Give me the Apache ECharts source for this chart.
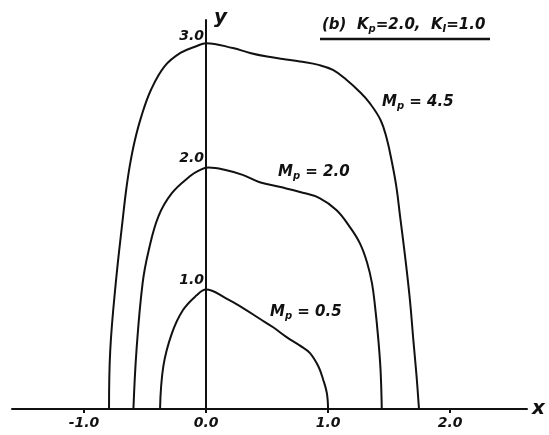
<!DOCTYPE html>
<html>
<head>
<meta charset="utf-8">
<script src="https://cdn.jsdelivr.net/npm/echarts@6/dist/echarts.min.js"></script>
<style>
  html, body { margin: 0; padding: 0; background: #fff; }
  #chart { width: 549px; height: 435px; }
</style>
</head>
<body>
<div id="chart"></div>
<script>
// axis ticks
const xTicks = [-1, 0, 1, 2]
const yTicks = [1, 2, 3]

// curves, [x, y]
const curveM45 = [
  [-0.795, 0], [-0.785, 0.48], [-0.74, 1.03], [-0.68, 1.58], [-0.654, 1.80],
  [-0.624, 2.00], [-0.584, 2.20], [-0.53, 2.40], [-0.45, 2.62], [-0.34, 2.81],
  [-0.21, 2.92], [-0.08, 2.975], [0, 3.0], [0.22, 2.96], [0.36, 2.92],
  [0.50, 2.89], [0.63, 2.87], [0.77, 2.85], [0.93, 2.82], [1.04, 2.78],
  [1.15, 2.70], [1.26, 2.60], [1.34, 2.51], [1.43, 2.37], [1.48, 2.22],
  [1.52, 2.04], [1.56, 1.82], [1.59, 1.58], [1.63, 1.26], [1.67, 0.90],
  [1.70, 0.55], [1.725, 0.27], [1.745, 0]
]
const curveM20 = [
  [-0.595, 0], [-0.57, 0.48], [-0.52, 1.03], [-0.47, 1.30], [-0.39, 1.58],
  [-0.28, 1.77], [-0.13, 1.91], [-0.06, 1.955], [0.02, 1.98], [0.16, 1.96],
  [0.30, 1.92], [0.44, 1.86], [0.61, 1.82], [0.77, 1.78], [0.93, 1.73],
  [1.07, 1.63], [1.18, 1.49], [1.26, 1.36], [1.32, 1.20], [1.36, 1.03],
  [1.385, 0.84], [1.41, 0.59], [1.43, 0.32], [1.44, 0]
]
const curveM05 = [
  [-0.377, 0], [-0.35, 0.35], [-0.28, 0.62], [-0.19, 0.81], [-0.08, 0.93],
  [0, 0.98], [0.16, 0.91], [0.30, 0.83], [0.44, 0.74], [0.55, 0.67],
  [0.66, 0.59], [0.77, 0.52], [0.85, 0.46], [0.92, 0.35], [0.96, 0.24],
  [0.99, 0.13], [1.0, 0]
]

const INK = '#111'
const FONT = 'DejaVu Sans'

function curveSeries(name, data) {
  return {
    name: name,
    type: 'line',
    data: data,
    smooth: 0.4,
    showSymbol: false,
    silent: true,
    lineStyle: { color: INK, width: 2 }
  }
}

function textLabel(left, top, text) {
  return {
    type: 'text',
    left: left,
    top: top,
    style: {
      text: text,
      fill: INK,
      font: 'italic bold 15px ' + FONT,
      rich: {
        sub: { fontSize: 10, fontStyle: 'italic', fontWeight: 'bold', fontFamily: FONT, fill: INK, padding: [8, 0, 0, 0] }
      }
    }
  }
}

const chart = echarts.init(document.getElementById('chart'), null, { renderer: 'canvas' })

chart.setOption({
  animation: false,
  backgroundColor: '#fff',
  grid: { left: 12, right: 22, top: 20, bottom: 26, containLabel: false, outerBoundsMode: 'none' },
  xAxis: {
    type: 'value',
    min: -1.59,
    max: 2.63,
    name: 'x',
    nameLocation: 'end',
    nameGap: 5,
    nameTextStyle: { color: INK, fontSize: 20, fontWeight: 'bold', fontStyle: 'italic', fontFamily: FONT },
    axisLine: { lineStyle: { color: INK, width: 2 } },
    axisTick: { show: true, length: 4, customValues: xTicks, lineStyle: { color: INK, width: 2 } },
    axisLabel: {
      customValues: xTicks,
      margin: 7,
      color: INK,
      fontSize: 14,
      fontWeight: 'bold',
      fontStyle: 'italic',
      fontFamily: FONT,
      formatter: (v) => v.toFixed(1)
    },
    splitLine: { show: false }
  },
  yAxis: {
    type: 'value',
    min: 0,
    max: 3.19,
    // move the axis onto x = 0 so its labels come along
    offset: -194,
    name: 'y',
    nameLocation: 'end',
    nameGap: -8,
    nameTextStyle: { color: INK, fontSize: 20, fontWeight: 'bold', fontStyle: 'italic', fontFamily: FONT, align: 'left', padding: [0, 0, 0, 8] },
    axisLine: { onZero: false, lineStyle: { color: INK, width: 2 } },
    axisTick: { show: false },
    axisLabel: {
      customValues: yTicks,
      margin: 2,
      verticalAlign: 'bottom',
      color: INK,
      fontSize: 14,
      fontWeight: 'bold',
      fontStyle: 'italic',
      fontFamily: FONT,
      formatter: (v) => v.toFixed(1)
    },
    splitLine: { show: false }
  },
  graphic: [
    textLabel(322, 18, '(b)  K{sub|p}=2.0,  K{sub|I}=1.0'),
    {
      type: 'line',
      shape: { x1: 320, y1: 39, x2: 490, y2: 39 },
      style: { stroke: INK, lineWidth: 2.5 }
    },
    textLabel(382, 95, 'M{sub|p} = 4.5'),
    textLabel(278, 165, 'M{sub|p} = 2.0'),
    textLabel(270, 305, 'M{sub|p} = 0.5')
  ],
  series: [
    curveSeries('Mp=4.5', curveM45),
    curveSeries('Mp=2.0', curveM20),
    curveSeries('Mp=0.5', curveM05)
  ]
})
</script>
</body>
</html>
